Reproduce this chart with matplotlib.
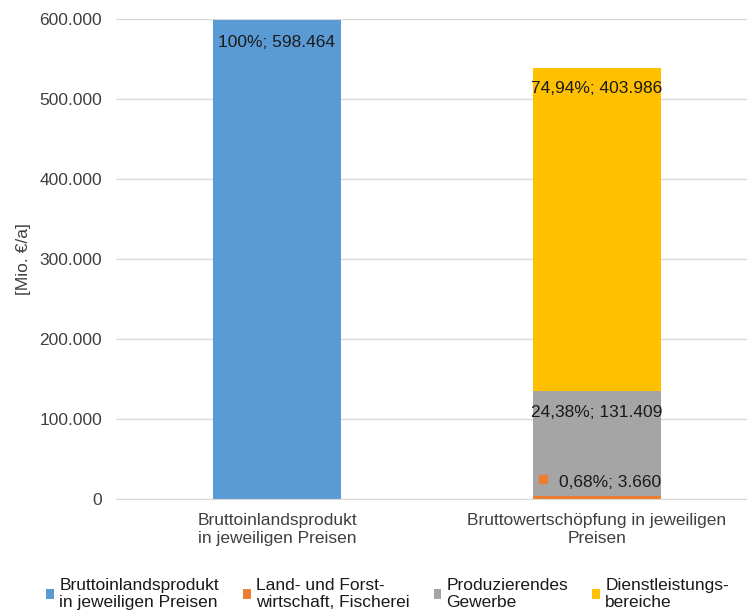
import matplotlib.pyplot as plt
from matplotlib.ticker import FuncFormatter, MultipleLocator

plt.rcParams['font.family'] = ['Liberation Sans', 'DejaVu Sans']

# ───────── Data ─────────────────────────────────────────────
categories = ['Bruttoinlandsprodukt\nin jeweiligen Preisen',
              'Bruttowertschöpfung in jeweiligen\nPreisen']
series_names = ['Bruttoinlandsprodukt\nin jeweiligen Preisen',
                'Land- und Forst-\nwirtschaft, Fischerei',
                'Produzierendes\nGewerbe',
                'Dienstleistungs-\nbereiche']
bip = [598464, 0]
land = [0, 3660]
prod = [0, 131409]
dienst = [0, 403986]
labels_bip = ['100%; 598.464', '']
labels_land = ['', '0,68%; 3.660']
labels_prod = ['', '24,38%; 131.409']
labels_dienst = ['', '74,94%; 403.986']

colors = ['#5B9BD5', '#ED7D31', '#A5A5A5', '#FFC000']
FS = 12.5
LEG_FS = 12.5

fig = plt.figure(figsize=(7.47, 6.10), dpi=100)
ax = fig.add_axes([116 / 747, 1 - 499 / 610, 631 / 747, 480 / 610])

x = list(range(len(categories)))
w = 0.4
b1 = ax.bar(x, bip, w, color=colors[0], label=series_names[0], zorder=2)
b2 = ax.bar(x, land, w, color=colors[1], label=series_names[1], zorder=2)
bottom_p = [a + b for a, b in zip(bip, land)]
b3 = ax.bar(x, prod, w, bottom=bottom_p, color=colors[2], label=series_names[2], zorder=2)
bottom_d = [a + b for a, b in zip(bottom_p, prod)]
b4 = ax.bar(x, dienst, w, bottom=bottom_d, color=colors[3], label=series_names[3], zorder=2)

# data labels near the top of each segment
TXT = '#1a1a1a'
for i in x:
    if labels_bip[i]:
        ax.text(i, bip[i] - 28000, labels_bip[i], ha='center', va='center', fontsize=FS, color=TXT)
    if labels_dienst[i]:
        ax.text(i, bottom_d[i] + dienst[i] - 26000, labels_dienst[i], ha='center', va='center',
                fontsize=FS, color=TXT)
    if labels_prod[i]:
        ax.text(i, bottom_p[i] + prod[i] - 27000, labels_prod[i], ha='center', va='center',
                fontsize=FS, color=TXT)
    if labels_land[i]:
        ax.text(i + 0.04, land[i] + 17000, labels_land[i], ha='center', va='center',
                fontsize=FS, color=TXT)
        ax.plot(i - 0.17, land[i] + 21000, 's', color=colors[1], markersize=6, zorder=3)

ax.set_xlim(-0.503, 1.469)
ax.set_ylim(0, 600000)
ax.yaxis.set_major_locator(MultipleLocator(100000))
ax.yaxis.set_major_formatter(FuncFormatter(lambda v, _: f'{int(v):,}'.replace(',', '.')))
ax.grid(axis='y', color='#D9D9D9', linewidth=1, zorder=0)
ax.set_axisbelow(True)
for s in ['top', 'right', 'left']:
    ax.spines[s].set_visible(False)
ax.spines['bottom'].set_color('#D9D9D9')
ax.tick_params(axis='y', length=0, labelsize=FS, colors='#404040', pad=10)
ax.tick_params(axis='x', length=0, labelsize=FS, colors='#404040', pad=10)
ax.set_xticks(x)
ax.set_xticklabels(categories, linespacing=1.3)
ax.set_ylabel('[Mio. €/a]', fontsize=FS, color='#404040', labelpad=6)

handles = [b1, b2, b3, b4]
fig.legend(handles, series_names, loc='lower center', ncol=4, frameon=False,
           fontsize=LEG_FS, bbox_to_anchor=(0.519, -0.026), handlelength=0.45, handleheight=0.45,
           handletextpad=0.3, columnspacing=1.38, labelcolor=TXT, labelspacing=0.2)
for t in fig.legends[0].get_texts():
    t.set_linespacing(1.15)

plt.savefig('out.png', dpi=100)
